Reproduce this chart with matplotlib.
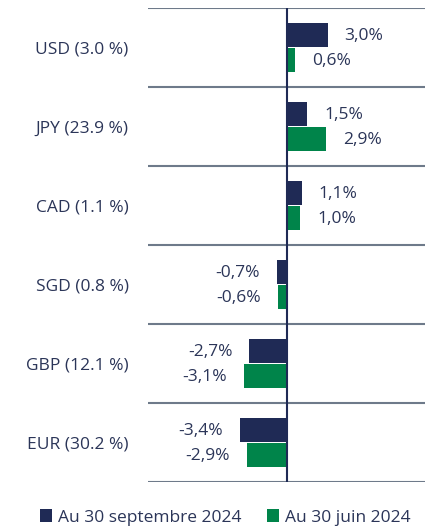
import matplotlib.pyplot as plt
import numpy as np

categories = ['USD (3.0 %)', 'JPY (23.9 %)', 'CAD (1.1 %)', 'SGD (0.8 %)', 'GBP (12.1 %)', 'EUR (30.2 %)']
sept = [3.0, 1.5, 1.1, -0.7, -2.7, -3.4]
juin = [0.6, 2.9, 1.0, -0.6, -3.1, -2.9]
series_names = ['Au 30 septembre 2024', 'Au 30 juin 2024']

navy = '#1f2a55'
green = '#00844a'
text_col = '#2b3558'
grid_col = '#6e7a8a'

plt.rcParams['font.family'] = ['Open Sans', 'DejaVu Sans']
fs = 12.5

fig = plt.figure(figsize=(4.29, 5.27), dpi=100)
ax = fig.add_axes([148 / 429, 1 - 482 / 527, 277 / 429, 474 / 527])

y = np.arange(len(categories))
h = 0.3
ax.barh(y - 0.16, sept, height=h, color=navy, label=series_names[0])
ax.barh(y + 0.16, juin, height=h, color=green, label=series_names[1])

def fmt(v):
    return ('%.1f%%' % v).replace('.', ',')

for yy, vals in [(y - 0.16, sept), (y + 0.16, juin)]:
    for yi, v in zip(yy, vals):
        off = 17 if v >= 0 else -17
        ax.annotate(fmt(v), (v, yi), xytext=(off, -1), textcoords='offset pixels',
                    ha='left' if v >= 0 else 'right', va='center', fontsize=fs, color=text_col)

ax.set_xlim(-10.1, 10.1)
ax.set_ylim(len(categories) - 0.5, -0.5)
for b in np.arange(-0.5, len(categories), 1.0):
    ax.axhline(b, color=grid_col, lw=1.5, zorder=0)
ax.axvline(0, color=navy, lw=1.5, zorder=3)

ax.set_yticks(y)
ax.set_yticklabels(categories, fontsize=fs, color=text_col)
ax.tick_params(axis='y', length=0, pad=14)
ax.set_xticks([])
for s in ax.spines.values():
    s.set_visible(False)

fig.legend(loc='lower center', bbox_to_anchor=(0.525, -0.027), ncol=2, frameon=False,
           fontsize=fs, handlelength=0.7, handleheight=0.7, handletextpad=0.3, columnspacing=1.5,
           labelcolor=text_col)

fig.savefig('out.png', dpi=100)
